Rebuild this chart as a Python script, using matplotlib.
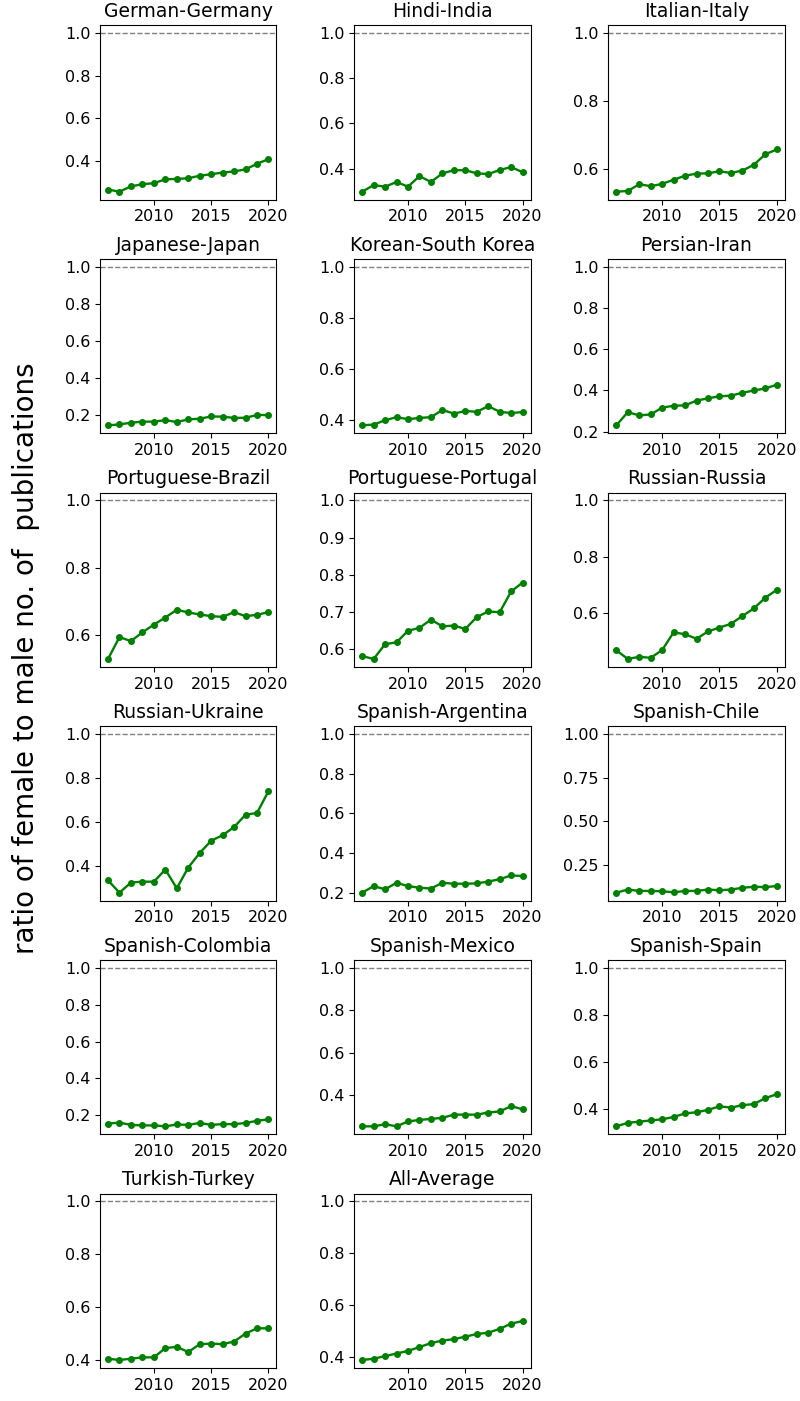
import numpy as np
import matplotlib.pyplot as plt

# years on the x axis
years = np.arange(2006, 2021)

# panel titles, in order
titles = ['German-Germany', 'Hindi-India', 'Italian-Italy',
          'Japanese-Japan', 'Korean-South Korea', 'Persian-Iran',
          'Portuguese-Brazil', 'Portuguese-Portugal', 'Russian-Russia',
          'Russian-Ukraine', 'Spanish-Argentina', 'Spanish-Chile',
          'Spanish-Colombia', 'Spanish-Mexico', 'Spanish-Spain',
          'Turkish-Turkey', 'All-Average']

# ratio female / male publications per year
german_germany = [0.265, 0.255, 0.28, 0.29, 0.295, 0.313, 0.315, 0.318, 0.33, 0.337, 0.345, 0.35, 0.36, 0.386, 0.408]
hindi_india = [0.298, 0.327, 0.32, 0.341, 0.32, 0.367, 0.341, 0.379, 0.393, 0.393, 0.379, 0.376, 0.394, 0.407, 0.384]
italian_italy = [0.534, 0.536, 0.556, 0.55, 0.557, 0.569, 0.581, 0.587, 0.588, 0.594, 0.589, 0.596, 0.613, 0.644, 0.658]
japanese_japan = [0.142, 0.147, 0.156, 0.162, 0.162, 0.17, 0.16, 0.174, 0.178, 0.19, 0.189, 0.182, 0.183, 0.198, 0.198]
korean_korea = [0.38, 0.383, 0.4, 0.412, 0.404, 0.409, 0.412, 0.44, 0.426, 0.436, 0.433, 0.455, 0.433, 0.428, 0.432]
persian_iran = [0.231, 0.295, 0.279, 0.284, 0.317, 0.326, 0.328, 0.351, 0.362, 0.372, 0.375, 0.389, 0.4, 0.41, 0.428]
portuguese_brazil = [0.53, 0.595, 0.583, 0.609, 0.632, 0.653, 0.676, 0.668, 0.662, 0.657, 0.655, 0.669, 0.657, 0.661, 0.669]
portuguese_portugal = [0.581, 0.573, 0.613, 0.618, 0.649, 0.657, 0.679, 0.661, 0.663, 0.654, 0.686, 0.701, 0.699, 0.755, 0.779]
russian_russia = [0.467, 0.436, 0.444, 0.44, 0.468, 0.531, 0.524, 0.508, 0.534, 0.548, 0.561, 0.589, 0.616, 0.654, 0.682]
russian_ukraine = [0.336, 0.28, 0.326, 0.33, 0.33, 0.385, 0.3, 0.394, 0.46, 0.516, 0.541, 0.578, 0.634, 0.642, 0.741]
spanish_argentina = [0.2, 0.233, 0.217, 0.25, 0.233, 0.225, 0.221, 0.25, 0.245, 0.245, 0.247, 0.256, 0.268, 0.287, 0.284]
spanish_chile = [0.09, 0.108, 0.1, 0.1, 0.098, 0.092, 0.1, 0.1, 0.108, 0.104, 0.108, 0.118, 0.124, 0.122, 0.128]
spanish_colombia = [0.155, 0.16, 0.148, 0.145, 0.145, 0.14, 0.15, 0.148, 0.158, 0.148, 0.152, 0.152, 0.158, 0.17, 0.178]
spanish_mexico = [0.255, 0.255, 0.265, 0.255, 0.278, 0.285, 0.29, 0.295, 0.31, 0.31, 0.31, 0.32, 0.325, 0.35, 0.335]
spanish_spain = [0.325, 0.34, 0.345, 0.35, 0.355, 0.365, 0.38, 0.385, 0.395, 0.41, 0.405, 0.415, 0.42, 0.445, 0.462]
turkish_turkey = [0.405, 0.4, 0.405, 0.41, 0.41, 0.445, 0.45, 0.43, 0.46, 0.462, 0.46, 0.47, 0.5, 0.52, 0.52]
all_average = [0.39, 0.395, 0.405, 0.415, 0.425, 0.44, 0.455, 0.465, 0.47, 0.48, 0.49, 0.495, 0.51, 0.53, 0.54]

series = [german_germany, hindi_india, italian_italy,
          japanese_japan, korean_korea, persian_iran,
          portuguese_brazil, portuguese_portugal, russian_russia,
          russian_ukraine, spanish_argentina, spanish_chile,
          spanish_colombia, spanish_mexico, spanish_spain,
          turkish_turkey, all_average]

fig, axes = plt.subplots(6, 3, figsize=(8, 14.01), dpi=100)
fig.subplots_adjust(left=0.125, right=0.981, top=0.982, bottom=0.0236,
                    wspace=0.44, hspace=0.34)

for i, ax in enumerate(axes.flat):
    if i >= len(series):
        ax.remove()
        continue
    ax.plot(years, series[i], color='green', marker='o', markersize=4, linewidth=1.7)
    ax.axhline(1.0, color='gray', linestyle='--', linewidth=1)
    ax.set_title(titles[i], fontsize=13.5)
    ax.set_xticks([2010, 2015, 2020])
    ax.tick_params(labelsize=11.5)

fig.text(0.033, 0.53, 'ratio of female to male no. of  publications',
         rotation=90, va='center', ha='center', fontsize=20)

fig.savefig('out.png', dpi=100)
